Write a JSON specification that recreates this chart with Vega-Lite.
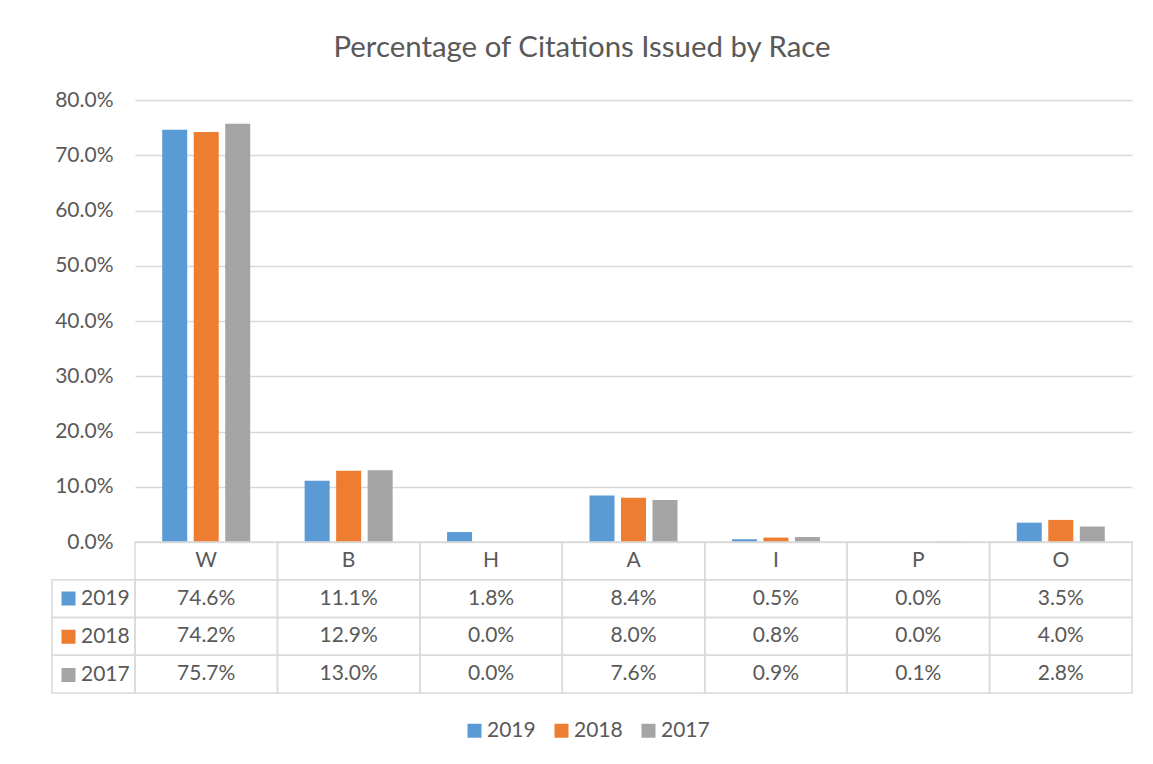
{
  "$schema": "https://vega.github.io/schema/vega-lite/v6.json",
  "background": "white",
  "padding": {"left": 51, "top": 32, "right": 21, "bottom": 10},
  "title": {
    "text": "Percentage of Citations Issued by Race",
    "font": "Lato",
    "fontSize": 29.4,
    "fontWeight": "normal",
    "color": "#595959",
    "anchor": "middle",
    "dx": -10,
    "offset": 26
  },
  "config": {
    "view": {"stroke": null},
    "font": "Lato",
    "legend": {"padding": 0, "labelFont": "Lato", "labelFontSize": 21, "labelColor": "#595959", "symbolType": "square", "symbolSize": 196, "symbolStrokeWidth": 0, "labelOffset": 2, "title": null}
  },
  "datasets": {
    "pct": [
      {"race": "W", "year": "2019", "pct": 0.746},
      {"race": "W", "year": "2018", "pct": 0.742},
      {"race": "W", "year": "2017", "pct": 0.757},
      {"race": "B", "year": "2019", "pct": 0.111},
      {"race": "B", "year": "2018", "pct": 0.129},
      {"race": "B", "year": "2017", "pct": 0.130},
      {"race": "H", "year": "2019", "pct": 0.018},
      {"race": "H", "year": "2018", "pct": 0.0},
      {"race": "H", "year": "2017", "pct": 0.0},
      {"race": "A", "year": "2019", "pct": 0.084},
      {"race": "A", "year": "2018", "pct": 0.080},
      {"race": "A", "year": "2017", "pct": 0.076},
      {"race": "I", "year": "2019", "pct": 0.005},
      {"race": "I", "year": "2018", "pct": 0.008},
      {"race": "I", "year": "2017", "pct": 0.009},
      {"race": "P", "year": "2019", "pct": 0.0},
      {"race": "P", "year": "2018", "pct": 0.0},
      {"race": "P", "year": "2017", "pct": 0.001},
      {"race": "O", "year": "2019", "pct": 0.035},
      {"race": "O", "year": "2018", "pct": 0.040},
      {"race": "O", "year": "2017", "pct": 0.028}
    ]
  },
  "data": {"name": "pct"},
  "spacing": 0,
  "bounds": "flush",
  "resolve": {
    "scale": {"x": "independent", "y": "independent", "color": "independent"},
    "legend": {"color": "independent"}
  },
  "vconcat": [
    {
      "width": 997,
      "height": 442,
      "mark": {"type": "bar"},
      "encoding": {
        "x": {
          "field": "race", "type": "nominal",
          "scale": {"domain": ["W", "B", "H", "A", "I", "P", "O"], "paddingInner": 0.382, "paddingOuter": 0.191},
          "axis": null
        },
        "xOffset": {
          "field": "year", "type": "nominal",
          "scale": {"domain": ["2019", "2018", "2017"], "paddingInner": 0.206, "paddingOuter": 0}
        },
        "y": {
          "field": "pct", "type": "quantitative",
          "scale": {"domain": [0, 0.8]},
          "axis": {
            "title": null, "format": ".1%",
            "values": [0, 0.1, 0.2, 0.3, 0.4, 0.5, 0.6, 0.7, 0.8],
            "labelFont": "Lato", "labelFontSize": 21, "labelColor": "#595959", "labelPadding": 22,
            "ticks": false, "domain": false,
            "gridColor": "#d9d9d9", "gridWidth": 1.5
          }
        },
        "color": {
          "field": "year", "type": "nominal",
          "scale": {"domain": ["2019", "2018", "2017"], "range": ["#5b9bd5", "#ed7d31", "#a5a5a5"]},
          "legend": {"orient": "none", "legendX": 329, "legendY": 620, "direction": "horizontal", "columnPadding": 15}
        }
      }
    },
    {
      "width": 997,
      "height": 151,
      "resolve": {"scale": {"x": "independent"}},
      "layer": [
        {
          "mark": {"type": "rect", "filled": false, "stroke": "#d9d9d9", "strokeWidth": 1.5},
          "encoding": {
            "x": {"field": "race", "type": "nominal", "scale": {"type": "band", "domain": ["W", "B", "H", "A", "I", "P", "O"], "paddingInner": 0, "paddingOuter": 0}, "axis": null},
            "y": {"field": "year", "type": "nominal", "scale": {"type": "band", "domain": ["Race", "2019", "2018", "2017"], "paddingInner": 0, "paddingOuter": 0}, "axis": null}
          }
        },
        {
          "transform": [{"filter": "datum.year == '2019'"}],
          "mark": {"type": "rect", "filled": false, "stroke": "#d9d9d9", "strokeWidth": 1.5},
          "encoding": {
            "x": {"field": "race", "type": "nominal", "scale": {"type": "band", "domain": ["W", "B", "H", "A", "I", "P", "O"], "paddingInner": 0, "paddingOuter": 0}, "axis": null},
            "y": {"datum": "Race", "type": "nominal", "axis": null}
          }
        },
        {
          "transform": [{"filter": "datum.race == 'W'"}],
          "mark": {"type": "rect", "filled": false, "stroke": "#d9d9d9", "strokeWidth": 1.5},
          "encoding": {
            "x": {"datum": "label", "type": "nominal", "scale": {"type": "band", "domain": ["label"], "range": [-83, 0], "paddingInner": 0, "paddingOuter": 0}, "axis": null},
            "y": {"field": "year", "type": "nominal", "axis": null}
          }
        },
        {
          "transform": [{"filter": "datum.year == '2019'"}],
          "mark": {"type": "text", "font": "Lato", "fontSize": 21, "color": "#595959"},
          "encoding": {
            "x": {"field": "race", "type": "nominal", "scale": {"type": "band", "domain": ["W", "B", "H", "A", "I", "P", "O"], "paddingInner": 0, "paddingOuter": 0}, "axis": null},
            "y": {"datum": "Race", "type": "nominal", "axis": null},
            "text": {"field": "race"}
          }
        },
        {
          "mark": {"type": "text", "font": "Lato", "fontSize": 21, "color": "#595959"},
          "encoding": {
            "x": {"field": "race", "type": "nominal", "scale": {"type": "band", "domain": ["W", "B", "H", "A", "I", "P", "O"], "paddingInner": 0, "paddingOuter": 0}, "axis": null},
            "y": {"field": "year", "type": "nominal", "axis": null},
            "text": {"field": "pct", "type": "quantitative", "format": ".1%"}
          }
        },
        {
          "mark": {"type": "square", "opacity": 0},
          "encoding": {
            "x": {"field": "race", "type": "nominal", "scale": {"type": "band", "domain": ["W", "B", "H", "A", "I", "P", "O"], "paddingInner": 0, "paddingOuter": 0}, "axis": null},
            "y": {"field": "year", "type": "nominal", "axis": null},
            "color": {
              "field": "year", "type": "nominal",
              "scale": {"domain": ["2019", "2018", "2017"], "range": ["#5b9bd5", "#ed7d31", "#a5a5a5"]},
              "legend": {"orient": "none", "legendX": -77, "legendY": 46, "direction": "vertical", "rowPadding": 16.25, "labelOffset": 2, "symbolOpacity": 1}
            }
          }
        }
      ]
    }
  ]
}
